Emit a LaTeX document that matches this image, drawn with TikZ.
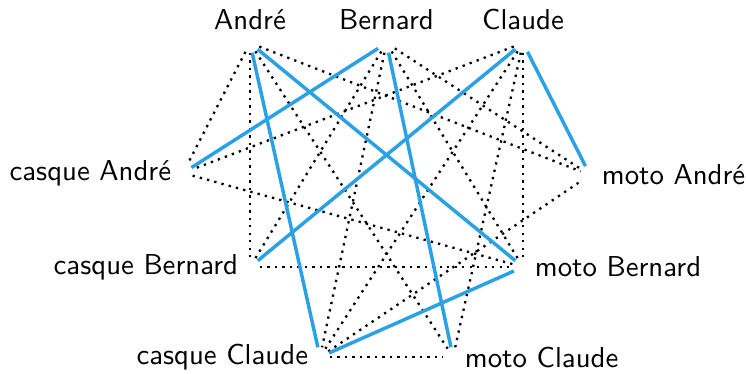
\documentclass[tikz,border=0pt]{standalone}
\definecolor{solblue}{RGB}{41,161,228}
\begin{document}
\begin{tikzpicture}[x=0.3472pt,y=-0.3472pt,
  font=\sffamily,
  vtx/.style={circle,inner sep=0pt,outer sep=0pt,minimum size=6.9pt},
  lab/.style={inner sep=0pt},
  pairline/.style={line width=0.8pt,dash pattern=on 0.8pt off 1.8pt},
  solline/.style={line width=1.2pt,solblue}]
\useasboundingbox (0,0) rectangle (746,373);
\node[vtx,label={[lab,label distance=1pt]above:André}] (A) at (250,43) {};
\node[vtx,label={[lab,label distance=1pt]above:Bernard}] (B) at (386.5,43) {};
\node[vtx,label={[lab,label distance=1pt]above:Claude}] (C) at (523,43) {};
\node[vtx,label={[lab,label distance=0.5pt]left:casque André}] (cA) at (183,173) {};
\node[vtx,label={[lab,label distance=0.5pt]right:moto André}] (mA) at (590,175) {};
\node[vtx,label={[lab,label distance=0.5pt]left:casque Bernard}] (cB) at (250,267) {};
\node[vtx,label={[lab,label distance=0.5pt]right:moto Bernard}] (mB) at (523,267) {};
\node[vtx,label={[lab,label distance=0.5pt]left:casque Claude}] (cC) at (320,357) {};
\node[vtx,label={[lab,label distance=0.5pt]right:moto Claude}] (mC) at (453,357) {};
\foreach \u/\v in {A/cA,A/cB,A/mA,A/mC,B/cB,B/cC,B/mA,B/mB,C/cA,C/cC,C/mB,C/mC,cA/mB,cB/mB,cC/mA,cC/mC}
  \draw[pairline] (\u) -- (\v);
\foreach \u/\v in {A/cC,A/mB,B/cA,B/mC,C/cB,C/mA,cC/mB}
  \draw[solline] (\u) -- (\v);
\end{tikzpicture}
\end{document}
